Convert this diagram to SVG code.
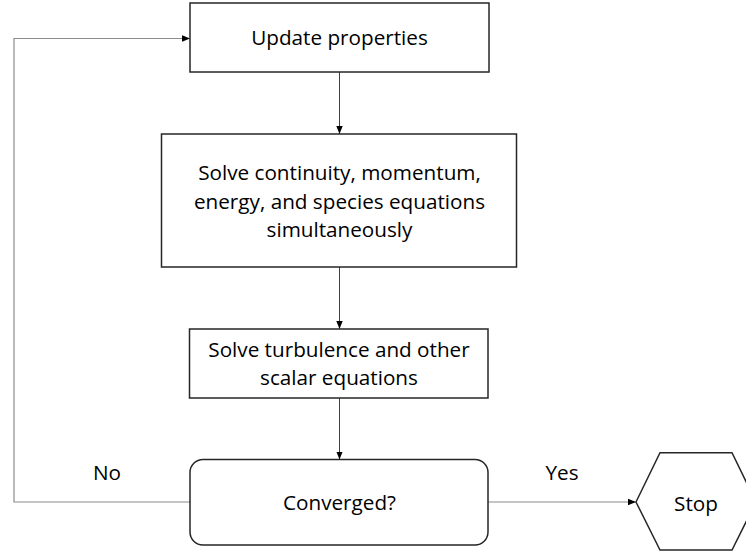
<svg xmlns="http://www.w3.org/2000/svg" width="746" height="552" viewBox="0 0 746 552">
<defs>
<marker id="ah" markerWidth="8" markerHeight="8" viewBox="0 0 8 8" refX="8" refY="4" orient="auto" markerUnits="userSpaceOnUse">
<path d="M0,0.8 L8,4 L0,7.2 Z" fill="#000"/>
</marker>
<style>
.box{fill:#fff;stroke:#262626;stroke-width:1.5}
.t{font-family:"Open Sans","Liberation Sans",Arial,sans-serif;font-size:20.7px;fill:#000;text-anchor:middle}
.c{fill:none;stroke:#404040;stroke-width:1}
.g{fill:none;stroke:#8c8c8c;stroke-width:1.2}
</style>
</defs>
<rect width="746" height="552" fill="#fff"/>
<g id="connectors">
<path class="c" d="M339.5,72 V134" marker-end="url(#ah)"/>
<path class="c" d="M339.5,267 V329" marker-end="url(#ah)"/>
<path class="c" d="M339.5,398 V459.5" marker-end="url(#ah)"/>
<path class="g" d="M190,502 H14 V38.5 H190" marker-end="url(#ah)"/>
<path class="g" d="M488,502 H636" marker-end="url(#ah)"/>
<text class="t" x="107" y="480">No</text>
<text class="t" x="562" y="480">Yes</text>
</g>
<g id="update">
<rect class="box" x="190" y="3" width="299" height="69"/>
<text class="t" x="339.5" y="45">Update properties</text>
</g>
<g id="solve-main">
<rect class="box" x="161.5" y="134" width="355" height="133"/>
<text class="t" x="339.5" y="180">Solve continuity, momentum,</text>
<text class="t" x="339.5" y="208.5">energy, and species equations</text>
<text class="t" x="339.5" y="237">simultaneously</text>
</g>
<g id="solve-turb">
<rect class="box" x="189.5" y="329" width="298.5" height="69"/>
<text class="t" x="339" y="357">Solve turbulence and other</text>
<text class="t" x="339" y="385">scalar equations</text>
</g>
<g id="converged">
<rect class="box" x="190" y="459.5" width="298" height="85.5" rx="13" ry="13"/>
<text class="t" x="339.5" y="510">Converged?</text>
</g>
<g id="stop">
<polygon class="box" points="636,502 660,452.7 732,452.7 756,502 732,550 660,550"/>
<text class="t" x="696" y="511">Stop</text>
</g>
</svg>
